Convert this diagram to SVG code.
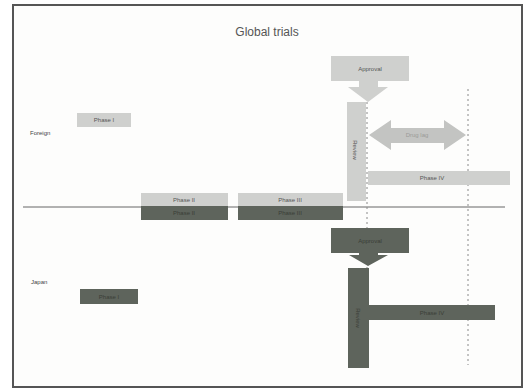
<svg xmlns="http://www.w3.org/2000/svg" width="527" height="389" viewBox="0 0 527 389">
<style>
.lt{fill:#cfd0ce}
.dk{fill:#5e645c}
.t{font-family:"Liberation Sans",Arial,sans-serif;font-size:6px;text-anchor:middle;dominant-baseline:central}
.tl{fill:#555}
.td{fill:#3a3e37}
.lab{font-family:"Liberation Sans",Arial,sans-serif;font-size:6px;fill:#444}
.dash{stroke:#8a8a8a;stroke-width:1;stroke-dasharray:2 3;fill:none}
</style>
<rect x="0" y="0" width="527" height="389" fill="#ffffff"/>
<rect x="13" y="5" width="509" height="382" fill="#fdfdfc" stroke="#555" stroke-width="2"/>
<text x="267" y="32" font-family="'Liberation Sans',Arial,sans-serif" font-size="12" fill="#555" text-anchor="middle" dominant-baseline="central">Global trials</text>
<text class="lab" x="30" y="133" dominant-baseline="central">Foreign</text>
<text class="lab" x="31" y="282" dominant-baseline="central">Japan</text>
<g id="connectors">
<line x1="23" y1="207" x2="505" y2="207" stroke="#666" stroke-width="1"/>
<line class="dash" x1="367" y1="87" x2="367" y2="368"/>
<line class="dash" x1="468" y1="89" x2="468" y2="365"/>
</g>
<g id="f-phase1"><rect class="lt" x="77" y="113" width="54" height="14"/><text class="t tl" x="104" y="120">Phase I</text></g>
<g id="f-phase2"><rect class="lt" x="141" y="193" width="87" height="13"/><text class="t tl" x="184" y="199.5">Phase II</text></g>
<g id="f-phase3"><rect class="lt" x="238" y="193" width="105" height="13"/><text class="t tl" x="290" y="199.5">Phase III</text></g>
<g id="j-phase2"><rect class="dk" x="141" y="206" width="87" height="14"/><text class="t td" x="184" y="213">Phase II</text></g>
<g id="j-phase3"><rect class="dk" x="238" y="206" width="105" height="14"/><text class="t td" x="290" y="213">Phase III</text></g>
<g id="f-approval"><rect class="lt" x="331" y="56" width="78" height="25"/><text class="t tl" x="370" y="68.5">Approval</text>
<polygon class="lt" points="359,81 378,81 378,87 388,87 368,102 348,87 359,87"/></g>
<g id="f-review"><rect class="lt" x="347" y="102" width="19" height="99"/><text class="t tl" transform="translate(355,150) rotate(90)">Review</text></g>
<g id="druglag"><polygon fill="#c3c4c2" points="369,135 391,120 391,128 444,128 444,120 466,135 444,150 444,143 391,143 391,150"/><text class="t" fill="#9a9b98" x="417" y="135">Drug lag</text></g>
<g id="f-phase4"><rect class="lt" x="368" y="171" width="142" height="14"/><text class="t tl" x="432" y="178">Phase IV</text></g>
<g id="j-phase1"><rect class="dk" x="80" y="289" width="58" height="15"/><text class="t td" x="109" y="296.5">Phase I</text></g>
<g id="j-approval"><rect class="dk" x="331" y="228" width="78" height="25"/><text class="t td" x="370" y="240.5">Approval</text>
<polygon class="dk" points="359,253 378,253 378,255 388,255 368,266 349,255 359,255"/></g>
<g id="j-review"><rect class="dk" x="348" y="268" width="21" height="100"/><text class="t td" transform="translate(358,318) rotate(90)">Review</text></g>
<g id="j-phase4"><rect class="dk" x="369" y="305" width="126" height="15"/><text class="t td" x="432" y="312.5">Phase IV</text></g>
</svg>
